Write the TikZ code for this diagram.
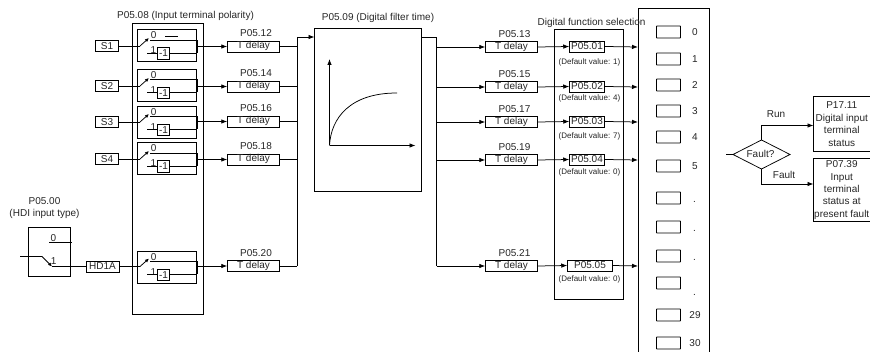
\documentclass[tikz,border=0pt]{standalone}
\usepackage{fontspec}
\setmainfont{Liberation Sans}
\usetikzlibrary{arrows.meta,shapes.geometric}
\tikzset{
 x=1pt,y=-1pt,
 every node/.style={font=\fontsize{10}{12.4}\selectfont,text=black!85,inner sep=0pt,outer sep=0pt},
 ln/.style={draw=black,line width=0.75pt},
 arr/.style={ln,-{Latex[length=6pt,width=4.5pt]}},
 sw/.style={ln,-{Latex[length=4pt,width=3.5pt]}},
 bx/.style={draw=black,line width=0.75pt,fill=white,anchor=north west},
 small/.style={font=\fontsize{8}{9}\selectfont},
}
\newcommand{\rbox}[5]{\node[bx,minimum width=#3 pt-0.75pt,minimum height=#4 pt-0.75pt] (#5) at (#1,#2) {};}
\newcommand{\polar}[2]{%
 \rbox{137}{#1}{60}{33}{#2}
 \coordinate (#2a) at (197,#1+10.5);
 \coordinate (#2b) at (197,#1+23.5);
 \draw[ln] (150,#1+10.5) -- (#2a) -- (#2b);
 \node at (153.7,#1+6) {0};
 \node at (153.3,#1+21) {1};
 \draw[ln] (147,#1+23.5) -- (157,#1+23.5);
 \node[draw=black,line width=0.75pt,fill=white,minimum width=12.5pt,minimum height=11.5pt] (#2n) at (163.5,#1+24) {-1};
 \draw[ln] (#2n.east |- #2b) -- (#2b);
}
\begin{document}
\begin{tikzpicture}
\useasboundingbox (0,0) rectangle (870,352);
% polarity
\rbox{132}{23}{72}{292}{pol}
\node at (185.5,15.7) {P05.08 (Input terminal polarity)};
\foreach \t/\n in {29.5/pa,69/pb,106/pc,142.5/pd,251/pe}{\polar{\t}{\n}}
\draw[ln] (165,36) -- (178,36);
% inputs
\foreach \n/\t/\y in {sa/S1/46,sb/S2/86,sc/S3/122,sd/S4/159}{
 \node[draw=black,line width=0.75pt,minimum width=23.5pt,minimum height=10.5pt] (\n) at (107,\y) {\t};
 \draw[ln] (\n.east) -- (140,\y);
 \draw[sw] (140,\y) -- (149,\y-8);
}
% HDI
\node[align=center] at (44.5,208) {P05.00\\(HDI input type)};
\rbox{28}{227.5}{43.5}{49.5}{hdi}
\node at (53.5,237.7) {0};
\draw[ln] (49,242) -- (71.5,242);
\node at (53.7,260.7) {1};
\coordinate (hdiL) at (20,256.5);
\draw[ln] (hdiL) -- (42,256.5);
\draw[sw] (42,256.5) -- (52,266.5);
\node[draw=black,line width=0.75pt,minimum width=33pt,minimum height=11pt] (hd) at (102.5,266.5) {HD1A};
\draw[ln] (52,266.5) -- (hd.west);
\draw[ln] (hd.east) -- (140,266.5);
\draw[sw] (140,266.5) -- (149,258.5);
% T delay column 1
\foreach \n/\y/\l in {ta/46.5/P05.12,tb/86.5/P05.14,tc/121.5/P05.16,td/159.5/P05.18,te/266/P05.20}{
 \node[draw=black,line width=0.75pt,minimum width=52.5pt,minimum height=11pt] (\n) at (253.5,\y) {};
 \node at (253.5,\y-0.5) {T delay};
 \node at (256,\y-13) {\l};
 \draw[arr] (197,\y) -- (\n.west);
 \draw[ln] (\n.east) -- (297,\y);
}
\coordinate (busa) at (297,37);
\draw[ln] (busa) -- (297,266);
% filter
\node[bx,minimum width=106.5pt,minimum height=163pt] (filt) at (314.5,28.5) {};
\node at (378,17.7) {P05.09 (Digital filter time)};
\draw[arr] (busa) -- (filt.west |- busa);
\coordinate (o) at (329.5,145.5);
\draw[arr] (o) -- (329.5,59);
\draw[arr] (o) -- (415.5,145.5);
\draw[ln] (o) .. controls (331,118) and (350,93) .. (397,93);
\coordinate (busb) at (436.5,37);
\draw[ln] (filt.east |- busb) -- (busb) -- (436.5,266);
% function box
\rbox{554}{29.5}{70.5}{271}{fn}
\foreach \n/\y/\l/\p/\d/\dy/\bw/\bc in {ua/47/P05.13/P05.01/1/62.5/35.5/587,ub/87/P05.15/P05.02/4/98/35.5/587,uc/122/P05.17/P05.03/7/136/35.5/587,ud/160/P05.19/P05.04/0/172/35.5/587,ue/266/P05.21/P05.05/0/279/45.5/590}{
 \node[draw=black,line width=0.75pt,minimum width=52.5pt,minimum height=11pt] (\n) at (511.5,\y) {};
 \node at (511.5,\y-0.5) {T delay};
 \node at (514.5,\y-12.5) {\l};
 \draw[arr] (436.5,\y) -- (\n.west);
 \node[draw=black,line width=0.75pt,minimum width=\bw pt,minimum height=11pt] (\n b) at (\bc,\y-0.5) {\p};
 \draw[arr] (\n.east) -- (\n b.west);
 \draw[arr] (\n b.east) -- (638,\y);
 \node[small] at (589.5,\dy) {(Default value: \d)};
}
% large list
\rbox{638}{8.5}{72}{350}{lst}
\node at (591.5,22.7) {Digital function selection};
\foreach \y/\t in {32/0,59/1,85/2,111/3,137/4,166/5}{
 \node[draw=black,line width=0.75pt,minimum width=24pt,minimum height=12pt,rounded corners=0.5pt] at (668.5,\y) {};
 \node at (695,\y) {\t};
}
\foreach \y/\ty in {198/202,227/231,256/260,283/295}{
 \node[draw=black,line width=0.75pt,minimum width=24pt,minimum height=12pt,rounded corners=0.5pt] at (668.5,\y) {};
 \node at (694.5,\ty) {.};
}
\foreach \y/\t in {315/29,343/30}{
 \node[draw=black,line width=0.75pt,minimum width=24pt,minimum height=12pt,rounded corners=0.5pt] at (668.5,\y) {};
 \node at (695,\y) {\t};
}
% fault
\node[diamond,draw=black,line width=0.75pt,minimum width=57pt,minimum height=29pt,aspect=2] (dm) at (761.5,154.5) {};
\node at (760.5,154.3) {Fault?};
\coordinate (dmin) at (726,154.5);
\draw[ln] (dmin) -- (dm.west);
\node[draw=black,line width=0.75pt,minimum width=56.5pt,minimum height=55pt,anchor=north west,align=center] (ra) at (813.5,96.7) {P17.11\\Digital input\\terminal\\status};
\node[draw=black,line width=0.75pt,minimum width=56.5pt,minimum height=63.5pt,anchor=north west,align=center] (rb) at (813.5,158.3) {P07.39\\Input\\terminal\\status at\\present fault};
\draw[arr] (dm.north) |- (ra.west |- 0,125.5);
\draw[arr] (dm.south) |- (rb.west |- 0,184);
\node at (776,114) {Run};
\node at (784,174.7) {Fault};
\end{tikzpicture}
\end{document}
